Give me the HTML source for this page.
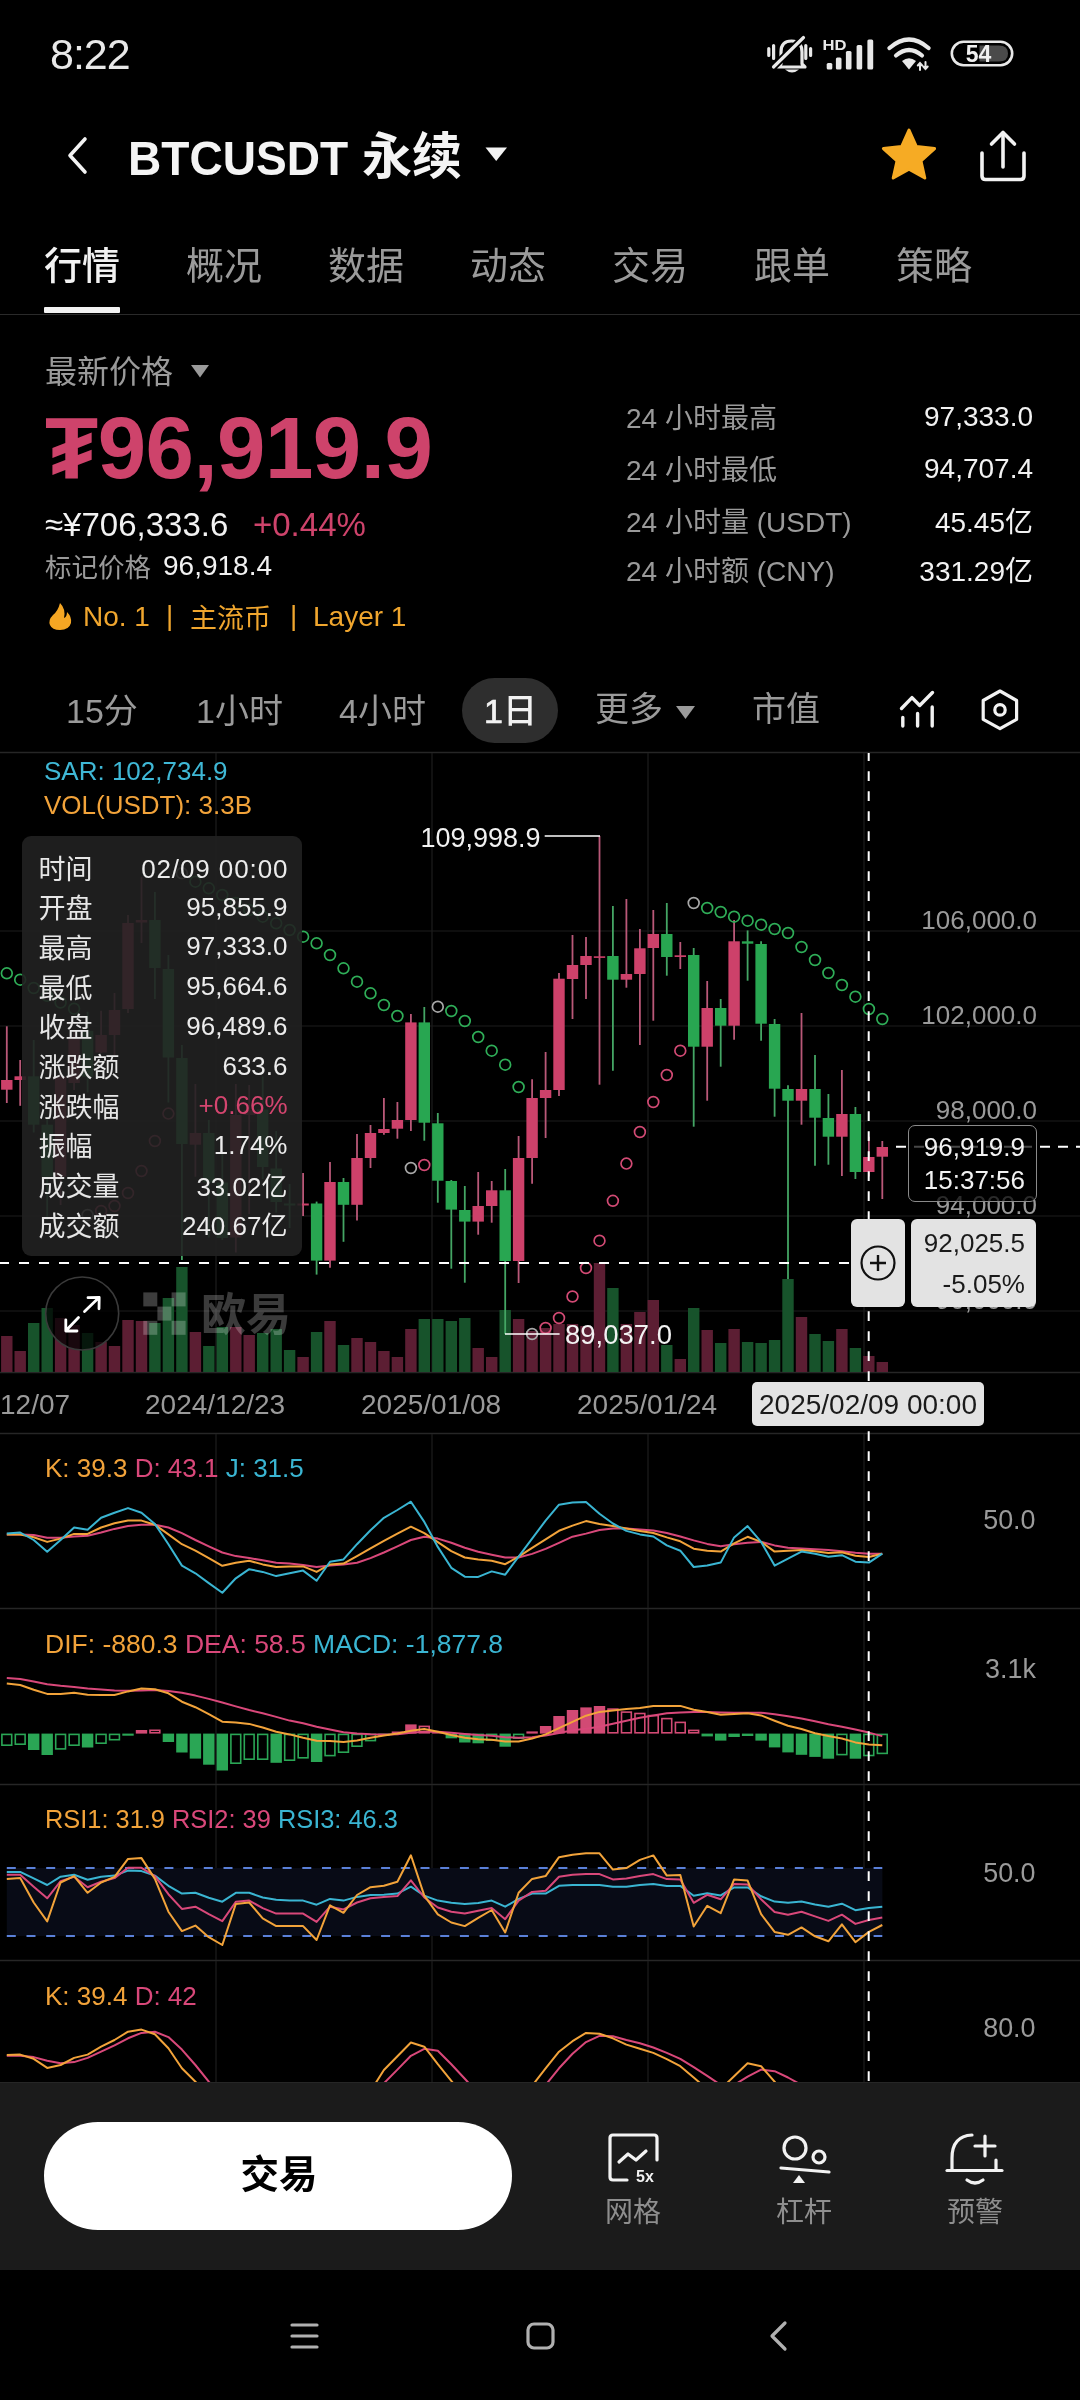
<!DOCTYPE html>
<html><head><meta charset="utf-8">
<style>
*{margin:0;padding:0;box-sizing:border-box}
html,body{width:1080px;height:2400px;background:#000;overflow:hidden}
body{position:relative;will-change:transform;font-family:"Liberation Sans","Noto Sans CJK SC",sans-serif;color:#fff}
.a{position:absolute;white-space:nowrap;line-height:1}
.g{color:#9a9a9a}
.w{color:#f2f2f2}
.pk{color:#ce436b}
.r{text-align:right}
.cjk{font-family:"Noto Sans CJK SC",sans-serif}
</style></head><body>
<!-- status bar -->
<div class="a" style="left:50px;top:33px;font-size:43px;color:#e8e8e8;letter-spacing:-1px">8:22</div>
<svg class="a" style="left:760px;top:30px" width="260" height="50" viewBox="760 30 260 50">
  <g fill="none" stroke="#e8e8e8" stroke-width="3.2" stroke-linecap="round" stroke-linejoin="round">
    <path d="M781 64 L781 52 Q781 41 791.5 41 Q802 41 802 52 L802 64 L805 67 L778 67 Z"/>
    <path d="M768.8 48.5 L768.8 55.5 M773.6 45.5 L773.6 58.5 M810.6 48.5 L810.6 55.5 M805.8 45.5 L805.8 58.5"/>
  </g>
  <path d="M803.5 37.5 L773.5 67" stroke="#000" stroke-width="7"/>
  <path d="M803.5 37.5 L773.5 67" stroke="#e8e8e8" stroke-width="3.2" stroke-linecap="round"/>
  <path d="M785 69.5 Q792 75.5 799 69.5 Z" fill="#e8e8e8"/>
  <text x="822.5" y="49.5" font-size="14.5" font-weight="bold" fill="#e8e8e8" font-family="Liberation Sans" textLength="24" lengthAdjust="spacingAndGlyphs">HD</text>
  <g fill="#e8e8e8">
    <rect x="826.7" y="63" width="5.6" height="6.5" rx="1.5"/>
    <rect x="835.9" y="57.5" width="5.6" height="12" rx="1.5"/>
    <rect x="845.9" y="51" width="5.6" height="18.5" rx="1.5"/>
    <rect x="856.6" y="45" width="5.6" height="24.5" rx="1.5"/>
    <rect x="867.4" y="39.4" width="5.8" height="30.1" rx="1.5"/>
  </g>
  <g fill="none" stroke="#e8e8e8" stroke-width="4.2" stroke-linecap="round">
    <path d="M889.5 48 Q909 31 928.5 48"/>
    <path d="M896 55.5 Q909 44.5 922 55.5"/>
  </g>
  <path d="M902 61 Q909 55.5 916 61 L909 69.5 Z" fill="#e8e8e8"/>
  <g fill="none" stroke="#e8e8e8" stroke-width="2" stroke-linecap="round">
    <path d="M920 63 L920 70 M917.8 65.5 L920 63 L922.2 65.5"/>
    <path d="M925.5 62 L925.5 69 M923.3 66.5 L925.5 69 L927.7 66.5"/>
  </g>
  <rect x="951.8" y="41.8" width="60.4" height="23.4" rx="11.7" fill="none" stroke="#e8e8e8" stroke-width="2.6"/>
  <path d="M979.5 45.5 L999 45.5 Q1008 45.5 1008 53.5 Q1008 61.5 999 61.5 L979.5 61.5 Z" fill="#4a4a4a"/>
  <text x="978.5" y="62" font-size="23" font-weight="bold" fill="#f0f0f0" text-anchor="middle" font-family="Liberation Sans">54</text>
</svg>

<!-- header -->
<svg class="a" style="left:60px;top:130px" width="40" height="50" viewBox="60 130 40 50">
  <path d="M85 139 L70 155.5 L85 172" fill="none" stroke="#f2f2f2" stroke-width="3.6" stroke-linecap="round" stroke-linejoin="round"/>
</svg>
<div class="a" style="left:127.5px;top:133.5px;font-size:48.5px;font-weight:bold;color:#f4f4f4;transform:scaleX(0.95);transform-origin:0 0">BTCUSDT</div>
<div class="a cjk" style="left:362px;top:127px;font-size:50px;font-weight:700;color:#f4f4f4">永续</div>
<svg class="a" style="left:480px;top:140px" width="34" height="28" viewBox="480 140 34 28"><path d="M485.5 147.5 L507 147.5 L496.2 161 Z" fill="#f2f2f2"/></svg>
<svg class="a" style="left:876px;top:124px" width="66" height="60" viewBox="876 124 66 60">
  <path d="M909 130 L916.4 146.5 L934.6 148.6 L921 161 L924.8 178 L909 169.2 L893.2 178 L897 161 L883.4 148.6 L901.6 146.5 Z" fill="#f6ab24" stroke="#f6ab24" stroke-width="3" stroke-linejoin="round"/>
</svg>
<svg class="a" style="left:975px;top:126px" width="60" height="60" viewBox="975 126 60 60">
  <g fill="none" stroke="#f2f2f2" stroke-width="3.6" stroke-linecap="round" stroke-linejoin="round">
    <path d="M1003 133 L1003 167"/>
    <path d="M991.5 144 L1003 132.5 L1014.5 144"/>
    <path d="M982 153 L982 176 Q982 179.5 985.5 179.5 L1020.5 179.5 Q1024 179.5 1024 176 L1024 153"/>
  </g>
</svg>

<!-- tabs -->
<div class="a cjk" style="left:44px;top:243.5px;font-size:38px;color:#f2f2f2;font-weight:500">行情</div>
<div class="a cjk g" style="left:186px;top:243.5px;font-size:38px">概况</div>
<div class="a cjk g" style="left:328px;top:243.5px;font-size:38px">数据</div>
<div class="a cjk g" style="left:470px;top:243.5px;font-size:38px">动态</div>
<div class="a cjk g" style="left:612px;top:243.5px;font-size:38px">交易</div>
<div class="a cjk g" style="left:754px;top:243.5px;font-size:38px">跟单</div>
<div class="a cjk g" style="left:896px;top:243.5px;font-size:38px">策略</div>
<div class="a" style="left:44px;top:307px;width:76px;height:6px;background:#f2f2f2;border-radius:1px"></div>
<div class="a" style="left:0;top:313.5px;width:1080px;height:1.5px;background:#2a2a2a"></div>

<!-- price block -->
<div class="a cjk g" style="left:45px;top:353px;font-size:32px">最新价格</div>
<svg class="a" style="left:188px;top:362px" width="24" height="18" viewBox="188 362 24 18"><path d="M191 365 L209 365 L200 377.5 Z" fill="#9a9a9a"/></svg>
<div class="a pk" style="left:45px;top:404px;font-size:87px;font-weight:bold;letter-spacing:-0.5px">₮96,919.9</div>
<div class="a w" style="left:45px;top:508px;font-size:33px">≈¥706,333.6</div>
<div class="a pk" style="left:253px;top:508px;font-size:33px">+0.44%</div>
<div class="a cjk g" style="left:45px;top:553px;font-size:26.5px">标记价格</div>
<div class="a w" style="left:163px;top:552px;font-size:28px">96,918.4</div>
<svg class="a" style="left:46px;top:600px" width="30" height="32" viewBox="46 600 30 32">
  <path d="M60 603 Q58 611 53 615 Q48 620 50 625 Q52 630 60 630 Q69 630 71 623 Q72 617 67 612 Q67 617 64 618 Q66 609 60 603 Z" fill="#f5a623"/>
</svg>
<div class="a" style="left:83px;top:603px;font-size:28px;color:#f0a62e">No. 1</div>
<div class="a" style="left:166px;top:602px;font-size:28px;color:#f0a62e">|</div>
<div class="a cjk" style="left:190px;top:602.5px;font-size:27px;color:#f0a62e">主流币</div>
<div class="a" style="left:290px;top:602px;font-size:28px;color:#f0a62e">|</div>
<div class="a" style="left:313px;top:603px;font-size:28px;color:#f0a62e">Layer 1</div>

<!-- right stats -->
<div class="a g" style="left:626px;top:402px;font-size:28px">24 <span class="cjk">小时最高</span></div>
<div class="a g" style="left:626px;top:454px;font-size:28px">24 <span class="cjk">小时最低</span></div>
<div class="a g" style="left:626px;top:506px;font-size:28px">24 <span class="cjk">小时量</span> (USDT)</div>
<div class="a g" style="left:626px;top:555px;font-size:28px">24 <span class="cjk">小时额</span> (CNY)</div>
<div class="a w r" style="right:47px;top:403px;font-size:28px">97,333.0</div>
<div class="a w r" style="right:47px;top:455px;font-size:28px">94,707.4</div>
<div class="a w r" style="right:47px;top:506px;font-size:28px">45.45<span class="cjk">亿</span></div>
<div class="a w r" style="right:47px;top:555px;font-size:28px">331.29<span class="cjk">亿</span></div>

<!-- interval row -->
<div class="a" style="left:462px;top:678px;width:96px;height:65px;border-radius:33px;background:#2e2e2e"></div>
<div class="a g" style="left:66px;top:692px;font-size:34px">15<span class="cjk">分</span></div>
<div class="a g" style="left:196px;top:692px;font-size:34px">1<span class="cjk">小时</span></div>
<div class="a g" style="left:339px;top:692px;font-size:34px">4<span class="cjk">小时</span></div>
<div class="a" style="left:484px;top:692px;font-size:34px;color:#f2f2f2;-webkit-text-stroke:0.7px #f2f2f2">1<span class="cjk" style="font-weight:500;-webkit-text-stroke:0">日</span></div>
<div class="a cjk g" style="left:595px;top:690px;font-size:34px">更多</div>
<svg class="a" style="left:672px;top:702px" width="26" height="20" viewBox="672 702 26 20"><path d="M676 706 L695 706 L685.5 719 Z" fill="#9a9a9a"/></svg>
<div class="a cjk g" style="left:752px;top:690px;font-size:34px">市值</div>
<svg class="a" style="left:894px;top:686px" width="48" height="46" viewBox="894 686 48 46">
  <g fill="none" stroke="#f2f2f2" stroke-width="3.4" stroke-linecap="round" stroke-linejoin="round">
    <path d="M902.8 717.5 L902.8 726 M917.6 713.5 L917.6 726 M932.2 707 L932.2 726"/>
    <path d="M901.5 708.5 L912 697.6 L919.7 705.5 L932.5 692.5"/>
  </g>
</svg>
<svg class="a" style="left:976px;top:685px" width="48" height="50" viewBox="976 685 48 50">
  <path d="M1000 691 L1016.6 700.5 L1016.6 719.4 L1000 728.6 L983.2 719.4 L983.2 700.5 Z" fill="none" stroke="#f2f2f2" stroke-width="3.2" stroke-linejoin="round"/>
  <circle cx="1000" cy="709.9" r="5.2" fill="none" stroke="#f2f2f2" stroke-width="3.2"/>
</svg>

<svg width="1080" height="2400" viewBox="0 0 1080 2400" style="position:absolute;left:0;top:0">
<defs><clipPath id="ckd"><rect x="0" y="1961" width="1080" height="121"/></clipPath><clipPath id="cmain"><rect x="0" y="753" width="1080" height="619"/></clipPath></defs>
<line x1="0" y1="752.5" x2="1080" y2="752.5" stroke="#262626" stroke-width="1.5"/>
<line x1="0" y1="1372.5" x2="1080" y2="1372.5" stroke="#262626" stroke-width="1.5"/>
<line x1="0" y1="1433.5" x2="1080" y2="1433.5" stroke="#262626" stroke-width="1.5"/>
<line x1="0" y1="1608.5" x2="1080" y2="1608.5" stroke="#262626" stroke-width="1.5"/>
<line x1="0" y1="1784.5" x2="1080" y2="1784.5" stroke="#262626" stroke-width="1.5"/>
<line x1="0" y1="1960.5" x2="1080" y2="1960.5" stroke="#262626" stroke-width="1.5"/>
<line x1="0" y1="931" x2="1080" y2="931" stroke="#1d1d1d" stroke-width="1.2"/>
<line x1="0" y1="1026" x2="1080" y2="1026" stroke="#1d1d1d" stroke-width="1.2"/>
<line x1="0" y1="1121" x2="1080" y2="1121" stroke="#1d1d1d" stroke-width="1.2"/>
<line x1="0" y1="1216" x2="1080" y2="1216" stroke="#1d1d1d" stroke-width="1.2"/>
<line x1="0" y1="1311" x2="1080" y2="1311" stroke="#1d1d1d" stroke-width="1.2"/>
<line x1="216" y1="753" x2="216" y2="1372" stroke="#1d1d1d" stroke-width="1.2"/>
<line x1="216" y1="1434" x2="216" y2="1608" stroke="#1d1d1d" stroke-width="1.2"/>
<line x1="216" y1="1609" x2="216" y2="1784" stroke="#1d1d1d" stroke-width="1.2"/>
<line x1="216" y1="1785" x2="216" y2="1960" stroke="#1d1d1d" stroke-width="1.2"/>
<line x1="216" y1="1961" x2="216" y2="2082" stroke="#1d1d1d" stroke-width="1.2"/>
<line x1="432" y1="753" x2="432" y2="1372" stroke="#1d1d1d" stroke-width="1.2"/>
<line x1="432" y1="1434" x2="432" y2="1608" stroke="#1d1d1d" stroke-width="1.2"/>
<line x1="432" y1="1609" x2="432" y2="1784" stroke="#1d1d1d" stroke-width="1.2"/>
<line x1="432" y1="1785" x2="432" y2="1960" stroke="#1d1d1d" stroke-width="1.2"/>
<line x1="432" y1="1961" x2="432" y2="2082" stroke="#1d1d1d" stroke-width="1.2"/>
<line x1="648" y1="753" x2="648" y2="1372" stroke="#1d1d1d" stroke-width="1.2"/>
<line x1="648" y1="1434" x2="648" y2="1608" stroke="#1d1d1d" stroke-width="1.2"/>
<line x1="648" y1="1609" x2="648" y2="1784" stroke="#1d1d1d" stroke-width="1.2"/>
<line x1="648" y1="1785" x2="648" y2="1960" stroke="#1d1d1d" stroke-width="1.2"/>
<line x1="648" y1="1961" x2="648" y2="2082" stroke="#1d1d1d" stroke-width="1.2"/>
<line x1="864" y1="753" x2="864" y2="1372" stroke="#1d1d1d" stroke-width="1.2"/>
<line x1="864" y1="1434" x2="864" y2="1608" stroke="#1d1d1d" stroke-width="1.2"/>
<line x1="864" y1="1609" x2="864" y2="1784" stroke="#1d1d1d" stroke-width="1.2"/>
<line x1="864" y1="1785" x2="864" y2="1960" stroke="#1d1d1d" stroke-width="1.2"/>
<line x1="864" y1="1961" x2="864" y2="2082" stroke="#1d1d1d" stroke-width="1.2"/>
<rect x="1.1" y="1336" width="11.4" height="36" fill="#5c1e33"/>
<rect x="14.5" y="1351" width="11.4" height="21" fill="#5c1e33"/>
<rect x="28" y="1323" width="11.4" height="49" fill="#17532b"/>
<rect x="41.5" y="1308" width="11.4" height="64" fill="#17532b"/>
<rect x="54.9" y="1318" width="11.4" height="54" fill="#5c1e33"/>
<rect x="68.4" y="1325" width="11.4" height="47" fill="#5c1e33"/>
<rect x="81.9" y="1333" width="11.4" height="39" fill="#17532b"/>
<rect x="95.4" y="1342" width="11.4" height="30" fill="#5c1e33"/>
<rect x="108.8" y="1346" width="11.4" height="26" fill="#5c1e33"/>
<rect x="122.3" y="1320" width="11.4" height="52" fill="#5c1e33"/>
<rect x="135.8" y="1321" width="11.4" height="51" fill="#5c1e33"/>
<rect x="149.2" y="1323" width="11.4" height="49" fill="#17532b"/>
<rect x="162.7" y="1298" width="11.4" height="74" fill="#17532b"/>
<rect x="176.2" y="1267" width="11.4" height="105" fill="#17532b"/>
<rect x="189.7" y="1332" width="11.4" height="40" fill="#5c1e33"/>
<rect x="203.1" y="1346" width="11.4" height="26" fill="#17532b"/>
<rect x="216.6" y="1327" width="11.4" height="45" fill="#17532b"/>
<rect x="230.1" y="1327" width="11.4" height="45" fill="#5c1e33"/>
<rect x="243.5" y="1335" width="11.4" height="37" fill="#5c1e33"/>
<rect x="257" y="1333" width="11.4" height="39" fill="#17532b"/>
<rect x="270.5" y="1329" width="11.4" height="43" fill="#17532b"/>
<rect x="283.9" y="1350" width="11.4" height="22" fill="#17532b"/>
<rect x="297.4" y="1357" width="11.4" height="15" fill="#5c1e33"/>
<rect x="310.9" y="1332" width="11.4" height="40" fill="#17532b"/>
<rect x="324.3" y="1321" width="11.4" height="51" fill="#5c1e33"/>
<rect x="337.8" y="1345" width="11.4" height="27" fill="#17532b"/>
<rect x="351.3" y="1338" width="11.4" height="34" fill="#5c1e33"/>
<rect x="364.8" y="1342" width="11.4" height="30" fill="#5c1e33"/>
<rect x="378.2" y="1351" width="11.4" height="21" fill="#5c1e33"/>
<rect x="391.7" y="1357" width="11.4" height="15" fill="#5c1e33"/>
<rect x="405.2" y="1329" width="11.4" height="43" fill="#5c1e33"/>
<rect x="418.6" y="1319" width="11.4" height="53" fill="#17532b"/>
<rect x="432.1" y="1319" width="11.4" height="53" fill="#17532b"/>
<rect x="445.6" y="1321" width="11.4" height="51" fill="#17532b"/>
<rect x="459.1" y="1318" width="11.4" height="54" fill="#17532b"/>
<rect x="472.5" y="1348" width="11.4" height="24" fill="#5c1e33"/>
<rect x="486" y="1357" width="11.4" height="15" fill="#5c1e33"/>
<rect x="499.5" y="1310" width="11.4" height="62" fill="#17532b"/>
<rect x="512.9" y="1319" width="11.4" height="53" fill="#5c1e33"/>
<rect x="526.4" y="1331" width="11.4" height="41" fill="#5c1e33"/>
<rect x="539.9" y="1328" width="11.4" height="44" fill="#5c1e33"/>
<rect x="553.3" y="1324" width="11.4" height="48" fill="#5c1e33"/>
<rect x="566.8" y="1324" width="11.4" height="48" fill="#5c1e33"/>
<rect x="580.3" y="1326" width="11.4" height="46" fill="#5c1e33"/>
<rect x="593.8" y="1263" width="11.4" height="109" fill="#5c1e33"/>
<rect x="607.2" y="1288" width="11.4" height="84" fill="#17532b"/>
<rect x="620.7" y="1324" width="11.4" height="48" fill="#5c1e33"/>
<rect x="634.2" y="1312" width="11.4" height="60" fill="#5c1e33"/>
<rect x="647.6" y="1300" width="11.4" height="72" fill="#5c1e33"/>
<rect x="661.1" y="1345" width="11.4" height="27" fill="#17532b"/>
<rect x="674.6" y="1359" width="11.4" height="13" fill="#5c1e33"/>
<rect x="688" y="1308" width="11.4" height="64" fill="#17532b"/>
<rect x="701.5" y="1330" width="11.4" height="42" fill="#5c1e33"/>
<rect x="715" y="1343" width="11.4" height="29" fill="#17532b"/>
<rect x="728.4" y="1329" width="11.4" height="43" fill="#5c1e33"/>
<rect x="741.9" y="1342" width="11.4" height="30" fill="#17532b"/>
<rect x="755.4" y="1343" width="11.4" height="29" fill="#17532b"/>
<rect x="768.9" y="1340" width="11.4" height="32" fill="#17532b"/>
<rect x="782.3" y="1279" width="11.4" height="93" fill="#17532b"/>
<rect x="795.8" y="1317" width="11.4" height="55" fill="#5c1e33"/>
<rect x="809.3" y="1334" width="11.4" height="38" fill="#17532b"/>
<rect x="822.7" y="1341" width="11.4" height="31" fill="#17532b"/>
<rect x="836.2" y="1329" width="11.4" height="43" fill="#5c1e33"/>
<rect x="849.7" y="1348" width="11.4" height="24" fill="#17532b"/>
<rect x="863.1" y="1356" width="11.4" height="16" fill="#5c1e33"/>
<rect x="876.6" y="1362" width="11.4" height="10" fill="#5c1e33"/>
<line x1="6.8" y1="1026.3" x2="6.8" y2="1103" stroke="#b95878" stroke-width="1.8"/>
<rect x="1.1" y="1080" width="11.4" height="9.7" fill="#cd416a"/>
<line x1="20.2" y1="1060" x2="20.2" y2="1105.8" stroke="#b95878" stroke-width="1.8"/>
<rect x="14.5" y="1076.3" width="11.4" height="3.7" fill="#cd416a"/>
<line x1="33.7" y1="1040" x2="33.7" y2="1132.5" stroke="#44a564" stroke-width="1.8"/>
<rect x="28" y="1076.3" width="11.4" height="48.4" fill="#28a651"/>
<line x1="47.2" y1="1118" x2="47.2" y2="1220" stroke="#44a564" stroke-width="1.8"/>
<rect x="41.5" y="1124.7" width="11.4" height="52" fill="#28a651"/>
<line x1="60.6" y1="1070" x2="60.6" y2="1205" stroke="#b95878" stroke-width="1.8"/>
<rect x="54.9" y="1076.7" width="11.4" height="100" fill="#cd416a"/>
<line x1="74.1" y1="1030" x2="74.1" y2="1090" stroke="#b95878" stroke-width="1.8"/>
<rect x="68.4" y="1036.7" width="11.4" height="46.3" fill="#cd416a"/>
<line x1="87.6" y1="1011.7" x2="87.6" y2="1092.5" stroke="#44a564" stroke-width="1.8"/>
<rect x="81.9" y="1030.8" width="11.4" height="45.9" fill="#28a651"/>
<line x1="101.1" y1="1010.8" x2="101.1" y2="1053" stroke="#b95878" stroke-width="1.8"/>
<rect x="95.4" y="1035" width="11.4" height="17.5" fill="#cd416a"/>
<line x1="114.5" y1="993" x2="114.5" y2="1055" stroke="#b95878" stroke-width="1.8"/>
<rect x="108.8" y="1010" width="11.4" height="25" fill="#cd416a"/>
<line x1="128" y1="915" x2="128" y2="1013" stroke="#b95878" stroke-width="1.8"/>
<rect x="122.3" y="923" width="11.4" height="86" fill="#cd416a"/>
<line x1="141.5" y1="877" x2="141.5" y2="943" stroke="#b95878" stroke-width="1.8"/>
<rect x="135.8" y="920" width="11.4" height="2.5" fill="#cd416a"/>
<line x1="154.9" y1="892" x2="154.9" y2="999" stroke="#44a564" stroke-width="1.8"/>
<rect x="149.2" y="920" width="11.4" height="48" fill="#28a651"/>
<line x1="168.4" y1="955" x2="168.4" y2="1102.5" stroke="#44a564" stroke-width="1.8"/>
<rect x="162.7" y="969" width="11.4" height="88.5" fill="#28a651"/>
<line x1="181.9" y1="1045" x2="181.9" y2="1260" stroke="#44a564" stroke-width="1.8"/>
<rect x="176.2" y="1058" width="11.4" height="86" fill="#28a651"/>
<line x1="195.4" y1="1084" x2="195.4" y2="1176.7" stroke="#b95878" stroke-width="1.8"/>
<rect x="189.7" y="1133" width="11.4" height="11.7" fill="#cd416a"/>
<line x1="208.8" y1="1120" x2="208.8" y2="1237.5" stroke="#44a564" stroke-width="1.8"/>
<rect x="203.1" y="1133" width="11.4" height="49.5" fill="#28a651"/>
<line x1="222.3" y1="1153" x2="222.3" y2="1240" stroke="#44a564" stroke-width="1.8"/>
<rect x="216.6" y="1182.5" width="11.4" height="55.5" fill="#28a651"/>
<line x1="235.8" y1="1084" x2="235.8" y2="1252.5" stroke="#b95878" stroke-width="1.8"/>
<rect x="230.1" y="1115" width="11.4" height="122.5" fill="#cd416a"/>
<line x1="249.2" y1="1085" x2="249.2" y2="1214" stroke="#b95878" stroke-width="1.8"/>
<rect x="243.5" y="1110" width="11.4" height="5" fill="#cd416a"/>
<line x1="262.7" y1="1076.5" x2="262.7" y2="1179" stroke="#44a564" stroke-width="1.8"/>
<rect x="257" y="1109.5" width="11.4" height="57.5" fill="#28a651"/>
<line x1="276.2" y1="1131" x2="276.2" y2="1212.6" stroke="#44a564" stroke-width="1.8"/>
<rect x="270.5" y="1168.5" width="11.4" height="33.5" fill="#28a651"/>
<line x1="289.6" y1="1184" x2="289.6" y2="1228" stroke="#44a564" stroke-width="1.8"/>
<rect x="283.9" y="1203.5" width="11.4" height="2" fill="#28a651"/>
<line x1="303.1" y1="1173" x2="303.1" y2="1216" stroke="#b95878" stroke-width="1.8"/>
<rect x="297.4" y="1203.5" width="11.4" height="2" fill="#cd416a"/>
<line x1="316.6" y1="1201.6" x2="316.6" y2="1274.6" stroke="#44a564" stroke-width="1.8"/>
<rect x="310.9" y="1203.5" width="11.4" height="57.1" fill="#28a651"/>
<line x1="330" y1="1162" x2="330" y2="1267.7" stroke="#b95878" stroke-width="1.8"/>
<rect x="324.3" y="1182" width="11.4" height="78.6" fill="#cd416a"/>
<line x1="343.5" y1="1178" x2="343.5" y2="1241.8" stroke="#44a564" stroke-width="1.8"/>
<rect x="337.8" y="1182" width="11.4" height="22.8" fill="#28a651"/>
<line x1="357" y1="1134" x2="357" y2="1220.4" stroke="#b95878" stroke-width="1.8"/>
<rect x="351.3" y="1158" width="11.4" height="46.8" fill="#cd416a"/>
<line x1="370.5" y1="1125" x2="370.5" y2="1168" stroke="#b95878" stroke-width="1.8"/>
<rect x="364.8" y="1133" width="11.4" height="25" fill="#cd416a"/>
<line x1="383.9" y1="1098" x2="383.9" y2="1134.7" stroke="#b95878" stroke-width="1.8"/>
<rect x="378.2" y="1129" width="11.4" height="4" fill="#cd416a"/>
<line x1="397.4" y1="1102" x2="397.4" y2="1138.7" stroke="#b95878" stroke-width="1.8"/>
<rect x="391.7" y="1120" width="11.4" height="8.7" fill="#cd416a"/>
<line x1="410.9" y1="1014" x2="410.9" y2="1131" stroke="#b95878" stroke-width="1.8"/>
<rect x="405.2" y="1022.4" width="11.4" height="97.6" fill="#cd416a"/>
<line x1="424.3" y1="1007" x2="424.3" y2="1140.7" stroke="#44a564" stroke-width="1.8"/>
<rect x="418.6" y="1022.4" width="11.4" height="100.3" fill="#28a651"/>
<line x1="437.8" y1="1113" x2="437.8" y2="1202.7" stroke="#44a564" stroke-width="1.8"/>
<rect x="432.1" y="1123.3" width="11.4" height="57.4" fill="#28a651"/>
<line x1="451.3" y1="1180" x2="451.3" y2="1268.7" stroke="#44a564" stroke-width="1.8"/>
<rect x="445.6" y="1181" width="11.4" height="28.6" fill="#28a651"/>
<line x1="464.8" y1="1186" x2="464.8" y2="1282.7" stroke="#44a564" stroke-width="1.8"/>
<rect x="459.1" y="1210" width="11.4" height="11.6" fill="#28a651"/>
<line x1="478.2" y1="1172" x2="478.2" y2="1234.7" stroke="#b95878" stroke-width="1.8"/>
<rect x="472.5" y="1206" width="11.4" height="15.6" fill="#cd416a"/>
<line x1="491.7" y1="1181" x2="491.7" y2="1222.7" stroke="#b95878" stroke-width="1.8"/>
<rect x="486" y="1190.3" width="11.4" height="15.7" fill="#cd416a"/>
<line x1="505.2" y1="1169" x2="505.2" y2="1334" stroke="#44a564" stroke-width="1.8"/>
<rect x="499.5" y="1190.3" width="11.4" height="70.7" fill="#28a651"/>
<line x1="518.6" y1="1136" x2="518.6" y2="1283" stroke="#b95878" stroke-width="1.8"/>
<rect x="512.9" y="1158" width="11.4" height="103" fill="#cd416a"/>
<line x1="532.1" y1="1079.3" x2="532.1" y2="1183.7" stroke="#b95878" stroke-width="1.8"/>
<rect x="526.4" y="1098" width="11.4" height="60" fill="#cd416a"/>
<line x1="545.6" y1="1052" x2="545.6" y2="1138" stroke="#b95878" stroke-width="1.8"/>
<rect x="539.9" y="1090" width="11.4" height="8" fill="#cd416a"/>
<line x1="559" y1="973" x2="559" y2="1096" stroke="#b95878" stroke-width="1.8"/>
<rect x="553.3" y="978.7" width="11.4" height="111.3" fill="#cd416a"/>
<line x1="572.5" y1="935" x2="572.5" y2="1019" stroke="#b95878" stroke-width="1.8"/>
<rect x="566.8" y="965" width="11.4" height="14" fill="#cd416a"/>
<line x1="586" y1="937" x2="586" y2="999" stroke="#b95878" stroke-width="1.8"/>
<rect x="580.3" y="956" width="11.4" height="9" fill="#cd416a"/>
<line x1="599.5" y1="836" x2="599.5" y2="1084.7" stroke="#b95878" stroke-width="1.8"/>
<rect x="593.8" y="956.3" width="11.4" height="1.6" fill="#cd416a"/>
<line x1="612.9" y1="906" x2="612.9" y2="1070.7" stroke="#44a564" stroke-width="1.8"/>
<rect x="607.2" y="956" width="11.4" height="23.7" fill="#28a651"/>
<line x1="626.4" y1="899" x2="626.4" y2="987.7" stroke="#b95878" stroke-width="1.8"/>
<rect x="620.7" y="974" width="11.4" height="5.7" fill="#cd416a"/>
<line x1="639.9" y1="929" x2="639.9" y2="1045" stroke="#b95878" stroke-width="1.8"/>
<rect x="634.2" y="948.3" width="11.4" height="25.7" fill="#cd416a"/>
<line x1="653.3" y1="910" x2="653.3" y2="1020.7" stroke="#b95878" stroke-width="1.8"/>
<rect x="647.6" y="934" width="11.4" height="14" fill="#cd416a"/>
<line x1="666.8" y1="903" x2="666.8" y2="975.7" stroke="#44a564" stroke-width="1.8"/>
<rect x="661.1" y="934" width="11.4" height="23" fill="#28a651"/>
<line x1="680.3" y1="942" x2="680.3" y2="969" stroke="#b95878" stroke-width="1.8"/>
<rect x="674.6" y="955.3" width="11.4" height="1.7" fill="#cd416a"/>
<line x1="693.7" y1="948" x2="693.7" y2="1126.7" stroke="#44a564" stroke-width="1.8"/>
<rect x="688" y="955" width="11.4" height="91.7" fill="#28a651"/>
<line x1="707.2" y1="981" x2="707.2" y2="1100.7" stroke="#b95878" stroke-width="1.8"/>
<rect x="701.5" y="1008" width="11.4" height="38.7" fill="#cd416a"/>
<line x1="720.7" y1="999" x2="720.7" y2="1066.7" stroke="#44a564" stroke-width="1.8"/>
<rect x="715" y="1008" width="11.4" height="17.7" fill="#28a651"/>
<line x1="734.1" y1="920" x2="734.1" y2="1039.7" stroke="#b95878" stroke-width="1.8"/>
<rect x="728.4" y="941.3" width="11.4" height="84.4" fill="#cd416a"/>
<line x1="747.6" y1="930.4" x2="747.6" y2="980.7" stroke="#44a564" stroke-width="1.8"/>
<rect x="741.9" y="941.3" width="11.4" height="2.4" fill="#28a651"/>
<line x1="761.1" y1="941.3" x2="761.1" y2="1040.7" stroke="#44a564" stroke-width="1.8"/>
<rect x="755.4" y="944" width="11.4" height="79.7" fill="#28a651"/>
<line x1="774.6" y1="1019" x2="774.6" y2="1116.7" stroke="#44a564" stroke-width="1.8"/>
<rect x="768.9" y="1024" width="11.4" height="64.7" fill="#28a651"/>
<line x1="788" y1="1085.3" x2="788" y2="1279" stroke="#44a564" stroke-width="1.8"/>
<rect x="782.3" y="1089" width="11.4" height="11.7" fill="#28a651"/>
<line x1="801.5" y1="1013" x2="801.5" y2="1124.7" stroke="#b95878" stroke-width="1.8"/>
<rect x="795.8" y="1089" width="11.4" height="11.7" fill="#cd416a"/>
<line x1="815" y1="1055" x2="815" y2="1165.7" stroke="#44a564" stroke-width="1.8"/>
<rect x="809.3" y="1089" width="11.4" height="28.7" fill="#28a651"/>
<line x1="828.4" y1="1094" x2="828.4" y2="1164.7" stroke="#44a564" stroke-width="1.8"/>
<rect x="822.7" y="1118" width="11.4" height="18.7" fill="#28a651"/>
<line x1="841.9" y1="1070" x2="841.9" y2="1176" stroke="#b95878" stroke-width="1.8"/>
<rect x="836.2" y="1114" width="11.4" height="22.7" fill="#cd416a"/>
<line x1="855.4" y1="1107" x2="855.4" y2="1179" stroke="#44a564" stroke-width="1.8"/>
<rect x="849.7" y="1114" width="11.4" height="58" fill="#28a651"/>
<line x1="868.9" y1="1136.8" x2="868.9" y2="1176.5" stroke="#b95878" stroke-width="1.8"/>
<rect x="863.1" y="1157" width="11.4" height="15" fill="#cd416a"/>
<line x1="882.3" y1="1141" x2="882.3" y2="1199" stroke="#b95878" stroke-width="1.8"/>
<rect x="876.6" y="1147" width="11.4" height="9.7" fill="#cd416a"/>
<circle cx="6.8" cy="973.3" r="5.4" fill="none" stroke="#2fae58" stroke-width="1.7"/>
<circle cx="20.2" cy="979.7" r="5.4" fill="none" stroke="#2fae58" stroke-width="1.7"/>
<circle cx="33.7" cy="988" r="5.4" fill="none" stroke="#2fae58" stroke-width="1.7"/>
<circle cx="47.2" cy="995.8" r="5.4" fill="none" stroke="#2fae58" stroke-width="1.7"/>
<circle cx="60.6" cy="1002.5" r="5.4" fill="none" stroke="#2fae58" stroke-width="1.7"/>
<circle cx="74.1" cy="1008.7" r="5.4" fill="none" stroke="#2fae58" stroke-width="1.7"/>
<circle cx="87.6" cy="1215" r="5.4" fill="none" stroke="#a8a8a8" stroke-width="1.7"/>
<circle cx="101.1" cy="1211" r="5.4" fill="none" stroke="#d24a74" stroke-width="1.7"/>
<circle cx="114.5" cy="1206" r="5.4" fill="none" stroke="#d24a74" stroke-width="1.7"/>
<circle cx="128" cy="1193" r="5.4" fill="none" stroke="#d24a74" stroke-width="1.7"/>
<circle cx="141.5" cy="1171" r="5.4" fill="none" stroke="#d24a74" stroke-width="1.7"/>
<circle cx="154.9" cy="1141" r="5.4" fill="none" stroke="#d24a74" stroke-width="1.7"/>
<circle cx="168.4" cy="1113.6" r="5.4" fill="none" stroke="#d24a74" stroke-width="1.7"/>
<circle cx="181.9" cy="873.3" r="5.4" fill="none" stroke="#a8a8a8" stroke-width="1.7"/>
<circle cx="195.4" cy="881.7" r="5.4" fill="none" stroke="#2fae58" stroke-width="1.7"/>
<circle cx="208.8" cy="888.3" r="5.4" fill="none" stroke="#2fae58" stroke-width="1.7"/>
<circle cx="222.3" cy="895" r="5.4" fill="none" stroke="#2fae58" stroke-width="1.7"/>
<circle cx="235.8" cy="903" r="5.4" fill="none" stroke="#2fae58" stroke-width="1.7"/>
<circle cx="249.2" cy="910" r="5.4" fill="none" stroke="#2fae58" stroke-width="1.7"/>
<circle cx="262.7" cy="916.7" r="5.4" fill="none" stroke="#2fae58" stroke-width="1.7"/>
<circle cx="276.2" cy="923.3" r="5.4" fill="none" stroke="#2fae58" stroke-width="1.7"/>
<circle cx="289.6" cy="930" r="5.4" fill="none" stroke="#2fae58" stroke-width="1.7"/>
<circle cx="303.1" cy="936.7" r="5.4" fill="none" stroke="#2fae58" stroke-width="1.7"/>
<circle cx="316.6" cy="943.3" r="5.4" fill="none" stroke="#2fae58" stroke-width="1.7"/>
<circle cx="330" cy="955" r="5.4" fill="none" stroke="#2fae58" stroke-width="1.7"/>
<circle cx="343.5" cy="968.3" r="5.4" fill="none" stroke="#2fae58" stroke-width="1.7"/>
<circle cx="357" cy="981.7" r="5.4" fill="none" stroke="#2fae58" stroke-width="1.7"/>
<circle cx="370.5" cy="993.3" r="5.4" fill="none" stroke="#2fae58" stroke-width="1.7"/>
<circle cx="383.9" cy="1005" r="5.4" fill="none" stroke="#2fae58" stroke-width="1.7"/>
<circle cx="397.4" cy="1016" r="5.4" fill="none" stroke="#2fae58" stroke-width="1.7"/>
<circle cx="410.9" cy="1168" r="5.4" fill="none" stroke="#a8a8a8" stroke-width="1.7"/>
<circle cx="424.3" cy="1165" r="5.4" fill="none" stroke="#d24a74" stroke-width="1.7"/>
<circle cx="437.8" cy="1006.7" r="5.4" fill="none" stroke="#a8a8a8" stroke-width="1.7"/>
<circle cx="451.3" cy="1011" r="5.4" fill="none" stroke="#2fae58" stroke-width="1.7"/>
<circle cx="464.8" cy="1021" r="5.4" fill="none" stroke="#2fae58" stroke-width="1.7"/>
<circle cx="478.2" cy="1037" r="5.4" fill="none" stroke="#2fae58" stroke-width="1.7"/>
<circle cx="491.7" cy="1050.7" r="5.4" fill="none" stroke="#2fae58" stroke-width="1.7"/>
<circle cx="505.2" cy="1064.7" r="5.4" fill="none" stroke="#2fae58" stroke-width="1.7"/>
<circle cx="518.6" cy="1087" r="5.4" fill="none" stroke="#2fae58" stroke-width="1.7"/>
<circle cx="532.1" cy="1334" r="5.4" fill="none" stroke="#a8a8a8" stroke-width="1.7"/>
<circle cx="545.6" cy="1328" r="5.4" fill="none" stroke="#d24a74" stroke-width="1.7"/>
<circle cx="559" cy="1318" r="5.4" fill="none" stroke="#d24a74" stroke-width="1.7"/>
<circle cx="572.5" cy="1296.5" r="5.4" fill="none" stroke="#d24a74" stroke-width="1.7"/>
<circle cx="586" cy="1268" r="5.4" fill="none" stroke="#d24a74" stroke-width="1.7"/>
<circle cx="599.5" cy="1240.7" r="5.4" fill="none" stroke="#d24a74" stroke-width="1.7"/>
<circle cx="612.9" cy="1200.8" r="5.4" fill="none" stroke="#d24a74" stroke-width="1.7"/>
<circle cx="626.4" cy="1163.6" r="5.4" fill="none" stroke="#d24a74" stroke-width="1.7"/>
<circle cx="639.9" cy="1132" r="5.4" fill="none" stroke="#d24a74" stroke-width="1.7"/>
<circle cx="653.3" cy="1102" r="5.4" fill="none" stroke="#d24a74" stroke-width="1.7"/>
<circle cx="666.8" cy="1075" r="5.4" fill="none" stroke="#d24a74" stroke-width="1.7"/>
<circle cx="680.3" cy="1050.7" r="5.4" fill="none" stroke="#d24a74" stroke-width="1.7"/>
<circle cx="693.7" cy="903" r="5.4" fill="none" stroke="#a8a8a8" stroke-width="1.7"/>
<circle cx="707.2" cy="908" r="5.4" fill="none" stroke="#2fae58" stroke-width="1.7"/>
<circle cx="720.7" cy="912" r="5.4" fill="none" stroke="#2fae58" stroke-width="1.7"/>
<circle cx="734.1" cy="916.7" r="5.4" fill="none" stroke="#2fae58" stroke-width="1.7"/>
<circle cx="747.6" cy="920.7" r="5.4" fill="none" stroke="#2fae58" stroke-width="1.7"/>
<circle cx="761.1" cy="924.7" r="5.4" fill="none" stroke="#2fae58" stroke-width="1.7"/>
<circle cx="774.6" cy="929" r="5.4" fill="none" stroke="#2fae58" stroke-width="1.7"/>
<circle cx="788" cy="933" r="5.4" fill="none" stroke="#2fae58" stroke-width="1.7"/>
<circle cx="801.5" cy="947" r="5.4" fill="none" stroke="#2fae58" stroke-width="1.7"/>
<circle cx="815" cy="960" r="5.4" fill="none" stroke="#2fae58" stroke-width="1.7"/>
<circle cx="828.4" cy="973" r="5.4" fill="none" stroke="#2fae58" stroke-width="1.7"/>
<circle cx="841.9" cy="985" r="5.4" fill="none" stroke="#2fae58" stroke-width="1.7"/>
<circle cx="855.4" cy="996.7" r="5.4" fill="none" stroke="#2fae58" stroke-width="1.7"/>
<circle cx="868.9" cy="1009" r="5.4" fill="none" stroke="#2fae58" stroke-width="1.7"/>
<circle cx="882.3" cy="1019" r="5.4" fill="none" stroke="#2fae58" stroke-width="1.7"/>
<line x1="544.7" y1="836" x2="600" y2="836" stroke="#fff" stroke-width="1.6"/>
<line x1="505" y1="1334" x2="559.6" y2="1334" stroke="#fff" stroke-width="1.6"/>
<polyline points="6.8,1534.4 20.2,1534.4 33.7,1535 47.2,1537.8 60.6,1537.8 74.1,1536.4 87.6,1535.8 101.1,1532.5 114.5,1528.9 128,1526.1 141.5,1524.7 154.9,1524.7 168.4,1527.5 181.9,1533.1 195.4,1540 208.8,1546.4 222.3,1552.5 235.8,1556.1 249.2,1558.1 262.7,1560.3 276.2,1562.8 289.6,1563.6 303.1,1565 316.6,1566.9 330,1565.6 343.5,1564.4 357,1562.8 370.5,1558.1 383.9,1552.5 397.4,1546.4 410.9,1540 424.3,1536.7 437.8,1538.6 451.3,1542.8 464.8,1547.8 478.2,1551.7 491.7,1554.7 505.2,1557.5 518.6,1557.5 532.1,1553.9 545.6,1548.9 559,1542.8 572.5,1536.7 586,1533.6 599.5,1530 612.9,1528.5 626.4,1528.5 639.9,1529.4 653.3,1530.6 666.8,1533 680.3,1536.5 693.7,1540.4 707.2,1543.9 720.7,1546.3 734.1,1544.2 747.6,1542.7 761.1,1541.9 774.6,1545.4 788,1547.8 801.5,1548.4 815,1549.3 828.4,1550.1 841.9,1551.3 855.4,1552.8 868.9,1553.7 882.3,1553.7" fill="none" stroke="#d9487a" stroke-width="2" stroke-linejoin="round"/>
<polyline points="6.8,1534.4 20.2,1534.4 33.7,1537.2 47.2,1541.9 60.6,1538.6 74.1,1533.9 87.6,1533.9 101.1,1527.5 114.5,1523.3 128,1520.6 141.5,1520.6 154.9,1524.7 168.4,1534.4 181.9,1544.2 195.4,1550.6 208.8,1558.1 222.3,1565.8 235.8,1562.8 249.2,1560.8 262.7,1564.4 276.2,1566.9 289.6,1566.4 303.1,1566.4 316.6,1571.9 330,1564.4 343.5,1563.6 357,1556.1 370.5,1548.3 383.9,1540.8 397.4,1533.6 410.9,1526.7 424.3,1533.1 437.8,1542.2 451.3,1551.1 464.8,1557.5 478.2,1559.4 491.7,1560.8 505.2,1564.2 518.6,1556.7 532.1,1547.8 545.6,1539.4 559,1530.8 572.5,1525.6 586,1521.1 599.5,1524.1 612.9,1526.1 626.4,1528.5 639.9,1530.9 653.3,1533 666.8,1537.4 680.3,1541.3 693.7,1548.7 707.2,1550.7 720.7,1551.6 734.1,1543.3 747.6,1536.8 761.1,1541.9 774.6,1551.6 788,1550.7 801.5,1550.1 815,1551.3 828.4,1553.1 841.9,1552.2 855.4,1555.8 868.9,1557 882.3,1553.7" fill="none" stroke="#f2a33a" stroke-width="2" stroke-linejoin="round"/>
<polyline points="6.8,1533.6 20.2,1532.5 33.7,1540 47.2,1551.7 60.6,1540 74.1,1527.5 87.6,1529.7 101.1,1517.8 114.5,1512.8 128,1508.1 141.5,1512.8 154.9,1523.9 168.4,1544.2 181.9,1565.6 195.4,1573.3 208.8,1583.1 222.3,1592.8 235.8,1578.3 249.2,1569.2 262.7,1571.9 276.2,1576.1 289.6,1573.3 303.1,1570.6 316.6,1580.8 330,1561.7 343.5,1559.4 357,1544.2 370.5,1530.3 383.9,1517.8 397.4,1510 410.9,1501.7 424.3,1521.9 437.8,1546.9 451.3,1567.8 464.8,1576.7 478.2,1576.9 491.7,1571.4 505.2,1574.7 518.6,1556.7 532.1,1538.6 545.6,1520.6 559,1504.7 572.5,1502.5 586,1501.9 599.5,1513.7 612.9,1523.5 626.4,1530.9 639.9,1534.4 653.3,1536.5 666.8,1545.4 680.3,1550.7 693.7,1567 707.2,1565.6 720.7,1562.6 734.1,1537.4 747.6,1526.1 761.1,1541.9 774.6,1565.6 788,1558.7 801.5,1551.6 815,1553.7 828.4,1556.7 841.9,1555.2 855.4,1561.7 868.9,1562.6 882.3,1553.7" fill="none" stroke="#3ab5d2" stroke-width="2" stroke-linejoin="round"/>
<rect x="1.9" y="1734.4" width="9.8" height="10.8" fill="none" stroke="#2aa655" stroke-width="1.6"/>
<rect x="15.3" y="1734.4" width="9.8" height="9.8" fill="none" stroke="#2aa655" stroke-width="1.6"/>
<rect x="28" y="1733.6" width="11.4" height="16.4" fill="#2aa655"/>
<rect x="41.5" y="1733.6" width="11.4" height="21.4" fill="#2aa655"/>
<rect x="55.7" y="1734.4" width="9.8" height="14.5" fill="none" stroke="#2aa655" stroke-width="1.6"/>
<rect x="69.2" y="1734.4" width="9.8" height="10.8" fill="none" stroke="#2aa655" stroke-width="1.6"/>
<rect x="81.9" y="1733.6" width="11.4" height="13.9" fill="#2aa655"/>
<rect x="96.2" y="1734.4" width="9.8" height="8.8" fill="none" stroke="#2aa655" stroke-width="1.6"/>
<rect x="109.6" y="1734.4" width="9.8" height="5.3" fill="none" stroke="#2aa655" stroke-width="1.6"/>
<rect x="123.1" y="1734.4" width="9.8" height="0.5" fill="none" stroke="#2aa655" stroke-width="1.6"/>
<rect x="135.8" y="1730" width="11.4" height="3.6" fill="#d24a74"/>
<rect x="150" y="1730.3" width="9.8" height="2.5" fill="none" stroke="#d24a74" stroke-width="1.6"/>
<rect x="162.7" y="1733.6" width="11.4" height="8.4" fill="#2aa655"/>
<rect x="176.2" y="1733.6" width="11.4" height="18.9" fill="#2aa655"/>
<rect x="189.7" y="1733.6" width="11.4" height="25" fill="#2aa655"/>
<rect x="203.1" y="1733.6" width="11.4" height="31.1" fill="#2aa655"/>
<rect x="216.6" y="1733.6" width="11.4" height="36.9" fill="#2aa655"/>
<rect x="230.9" y="1734.4" width="9.8" height="28.8" fill="none" stroke="#2aa655" stroke-width="1.6"/>
<rect x="244.3" y="1734.4" width="9.8" height="24.8" fill="none" stroke="#2aa655" stroke-width="1.6"/>
<rect x="257.8" y="1734.4" width="9.8" height="24.8" fill="none" stroke="#2aa655" stroke-width="1.6"/>
<rect x="270.5" y="1733.6" width="11.4" height="29.2" fill="#2aa655"/>
<rect x="284.7" y="1734.4" width="9.8" height="25.8" fill="none" stroke="#2aa655" stroke-width="1.6"/>
<rect x="298.2" y="1734.4" width="9.8" height="23.4" fill="none" stroke="#2aa655" stroke-width="1.6"/>
<rect x="310.9" y="1733.6" width="11.4" height="28.4" fill="#2aa655"/>
<rect x="325.1" y="1734.4" width="9.8" height="21.2" fill="none" stroke="#2aa655" stroke-width="1.6"/>
<rect x="338.6" y="1734.4" width="9.8" height="17.8" fill="none" stroke="#2aa655" stroke-width="1.6"/>
<rect x="352.1" y="1734.4" width="9.8" height="11.8" fill="none" stroke="#2aa655" stroke-width="1.6"/>
<rect x="365.6" y="1734.4" width="9.8" height="6.2" fill="none" stroke="#2aa655" stroke-width="1.6"/>
<rect x="379" y="1734.4" width="9.8" height="0.8" fill="none" stroke="#2aa655" stroke-width="1.6"/>
<rect x="391.7" y="1731.5" width="11.4" height="2.1" fill="#d24a74"/>
<rect x="405.2" y="1724.4" width="11.4" height="9.2" fill="#d24a74"/>
<rect x="419.4" y="1726.4" width="9.8" height="6.4" fill="none" stroke="#d24a74" stroke-width="1.6"/>
<rect x="432.9" y="1732.3" width="9.8" height="0.5" fill="none" stroke="#d24a74" stroke-width="1.6"/>
<rect x="445.6" y="1733.6" width="11.4" height="4.7" fill="#2aa655"/>
<rect x="459.1" y="1733.6" width="11.4" height="8.9" fill="#2aa655"/>
<rect x="472.5" y="1733.6" width="11.4" height="9.7" fill="#2aa655"/>
<rect x="486.8" y="1734.4" width="9.8" height="5.8" fill="none" stroke="#2aa655" stroke-width="1.6"/>
<rect x="499.5" y="1733.6" width="11.4" height="13.1" fill="#2aa655"/>
<rect x="513.7" y="1734.4" width="9.8" height="3.8" fill="none" stroke="#2aa655" stroke-width="1.6"/>
<rect x="526.4" y="1731.4" width="11.4" height="2.2" fill="#d24a74"/>
<rect x="539.9" y="1726" width="11.4" height="7.6" fill="#d24a74"/>
<rect x="553.3" y="1716" width="11.4" height="17.6" fill="#d24a74"/>
<rect x="566.8" y="1710" width="11.4" height="23.6" fill="#d24a74"/>
<rect x="580.3" y="1707.4" width="11.4" height="26.2" fill="#d24a74"/>
<rect x="593.8" y="1706" width="11.4" height="27.6" fill="#d24a74"/>
<rect x="608" y="1709.1" width="9.8" height="23.7" fill="none" stroke="#d24a74" stroke-width="1.6"/>
<rect x="621.5" y="1712.1" width="9.8" height="20.7" fill="none" stroke="#d24a74" stroke-width="1.6"/>
<rect x="635" y="1713.5" width="9.8" height="19.3" fill="none" stroke="#d24a74" stroke-width="1.6"/>
<rect x="648.4" y="1715.6" width="9.8" height="17.2" fill="none" stroke="#d24a74" stroke-width="1.6"/>
<rect x="661.9" y="1718.6" width="9.8" height="14.2" fill="none" stroke="#d24a74" stroke-width="1.6"/>
<rect x="675.4" y="1722.4" width="9.8" height="10.4" fill="none" stroke="#d24a74" stroke-width="1.6"/>
<rect x="688.8" y="1730.4" width="9.8" height="2.4" fill="none" stroke="#d24a74" stroke-width="1.6"/>
<rect x="701.5" y="1733.6" width="11.4" height="2.8" fill="#2aa655"/>
<rect x="715" y="1733.6" width="11.4" height="7" fill="#2aa655"/>
<rect x="728.4" y="1733.6" width="11.4" height="3.4" fill="#2aa655"/>
<rect x="741.9" y="1733.6" width="11.4" height="2.4" fill="#2aa655"/>
<rect x="755.4" y="1733.6" width="11.4" height="7" fill="#2aa655"/>
<rect x="768.9" y="1733.6" width="11.4" height="13.8" fill="#2aa655"/>
<rect x="782.3" y="1733.6" width="11.4" height="18.8" fill="#2aa655"/>
<rect x="795.8" y="1733.6" width="11.4" height="21.2" fill="#2aa655"/>
<rect x="809.3" y="1733.6" width="11.4" height="23.3" fill="#2aa655"/>
<rect x="822.7" y="1733.6" width="11.4" height="25.1" fill="#2aa655"/>
<rect x="837" y="1734.4" width="9.8" height="20.2" fill="none" stroke="#2aa655" stroke-width="1.6"/>
<rect x="849.7" y="1733.6" width="11.4" height="25.1" fill="#2aa655"/>
<rect x="863.9" y="1734.4" width="9.8" height="21.1" fill="none" stroke="#2aa655" stroke-width="1.6"/>
<rect x="877.4" y="1734.4" width="9.8" height="19" fill="none" stroke="#2aa655" stroke-width="1.6"/>
<polyline points="6.8,1678.1 20.2,1678.9 33.7,1681.4 47.2,1684.2 60.6,1685.8 74.1,1686.9 87.6,1688.6 101.1,1689.4 114.5,1690.6 128,1690.8 141.5,1690.6 154.9,1690 168.4,1691.1 181.9,1692.8 195.4,1695.6 208.8,1698.9 222.3,1702.5 235.8,1706.4 249.2,1710 262.7,1713.3 276.2,1716.9 289.6,1720.6 303.1,1723.3 316.6,1726.7 330,1729.4 343.5,1732.2 357,1733.6 370.5,1734.2 383.9,1734.4 397.4,1734.2 410.9,1732.8 424.3,1731.7 437.8,1731.7 451.3,1732.8 464.8,1733.9 478.2,1735 491.7,1735.8 505.2,1737.2 518.6,1737.8 532.1,1737.2 545.6,1735.6 559,1733.1 572.5,1730.3 586,1728.7 599.5,1726.7 612.9,1723.7 626.4,1720.7 639.9,1717.8 653.3,1715.4 666.8,1713.3 680.3,1712.4 693.7,1712.1 707.2,1712.1 720.7,1712.4 734.1,1712.7 747.6,1712.7 761.1,1712.7 774.6,1714.2 788,1716.3 801.5,1718.4 815,1721.3 828.4,1724.3 841.9,1726.7 855.4,1729.6 868.9,1732.6 882.3,1736.1" fill="none" stroke="#d9487a" stroke-width="2" stroke-linejoin="round"/>
<polyline points="6.8,1683.6 20.2,1685 33.7,1689.7 47.2,1693.9 60.6,1693.9 74.1,1692.8 87.6,1694.7 101.1,1695 114.5,1695 128,1691.4 141.5,1688.6 154.9,1689.2 168.4,1693.3 181.9,1701.7 195.4,1707.2 208.8,1714.2 222.3,1721.7 235.8,1722.5 249.2,1723.9 262.7,1727.5 276.2,1731.7 289.6,1734.4 303.1,1737.8 316.6,1740.8 330,1741.1 343.5,1741.9 357,1740.6 370.5,1737.8 383.9,1735.6 397.4,1733.6 410.9,1730.8 424.3,1728.9 437.8,1731.7 451.3,1735 464.8,1737.8 478.2,1739.2 491.7,1739.7 505.2,1741.4 518.6,1741.4 532.1,1738.6 545.6,1734.4 559,1728.1 572.5,1721.9 586,1715.7 599.5,1711.9 612.9,1710.4 626.4,1708.9 639.9,1708 653.3,1705.9 666.8,1705.9 680.3,1705.9 693.7,1709.8 707.2,1711.9 720.7,1714.8 734.1,1713.9 747.6,1713.3 761.1,1715.4 774.6,1720.7 788,1725.8 801.5,1729 815,1733.2 828.4,1736.1 841.9,1738.5 855.4,1742.4 868.9,1744.4 882.3,1745.3" fill="none" stroke="#f2a33a" stroke-width="2" stroke-linejoin="round"/>
<rect x="6.8" y="1868" width="875.6" height="68" fill="#080b16"/>
<line x1="6.8" y1="1868" x2="882.3" y2="1868" stroke="#5a80d8" stroke-width="2" stroke-dasharray="9 10.7"/>
<line x1="6.8" y1="1936" x2="882.3" y2="1936" stroke="#5a80d8" stroke-width="2" stroke-dasharray="9 10.7"/>
<polyline points="6.8,1871.9 20.2,1871.9 33.7,1878.3 47.2,1885 60.6,1876.7 74.1,1874.7 87.6,1879.7 101.1,1876.7 114.5,1875.6 128,1870.6 141.5,1871.1 154.9,1875.6 168.4,1885.8 181.9,1893.6 195.4,1892.8 208.8,1897.8 222.3,1901.7 235.8,1892.8 249.2,1892.8 262.7,1897.5 276.2,1899.7 289.6,1900.6 303.1,1900.6 316.6,1904.7 330,1898.9 343.5,1900.6 357,1896.9 370.5,1895 383.9,1894.7 397.4,1893.6 410.9,1886.7 424.3,1895.6 437.8,1900.6 451.3,1902.8 464.8,1903.9 478.2,1903.1 491.7,1900.6 505.2,1906.7 518.6,1898.9 532.1,1893.6 545.6,1893.6 559,1885.8 572.5,1885 586,1885 599.5,1885 612.9,1886.8 626.4,1886.8 639.9,1885 653.3,1883.9 666.8,1885.9 680.3,1885.9 693.7,1895.7 707.2,1893.3 720.7,1895.4 734.1,1887.4 747.6,1887.4 761.1,1896.3 774.6,1901.6 788,1902.8 801.5,1901.6 815,1904.6 828.4,1906.7 841.9,1903.7 855.4,1910.2 868.9,1908.1 882.3,1906.7" fill="none" stroke="#3ab5d2" stroke-width="2" stroke-linejoin="round"/>
<polyline points="6.8,1874.7 20.2,1874.7 33.7,1886.7 47.2,1898.3 60.6,1881.1 74.1,1876.7 87.6,1887.2 101.1,1881.7 114.5,1878.1 128,1867.8 141.5,1867.8 154.9,1876.1 168.4,1894.2 181.9,1908.9 195.4,1906.7 208.8,1914.2 222.3,1921.1 235.8,1901.7 249.2,1900.6 262.7,1908.1 276.2,1913.6 289.6,1913.6 303.1,1913.6 316.6,1921.9 330,1906.7 343.5,1909.4 357,1902.5 370.5,1898.3 383.9,1896.9 397.4,1896.1 410.9,1880.3 424.3,1897.5 437.8,1907.5 451.3,1911.7 464.8,1913.6 478.2,1910.8 491.7,1908.1 505.2,1919.2 518.6,1900.6 532.1,1891.9 545.6,1890.8 559,1876.7 572.5,1874.7 586,1874.1 599.5,1874.1 612.9,1879.4 626.4,1878.5 639.9,1876.1 653.3,1874.1 666.8,1879.1 680.3,1879.4 693.7,1902.8 707.2,1894.8 720.7,1899.3 734.1,1883.9 747.6,1884.4 761.1,1899.3 774.6,1912 788,1914.7 801.5,1911.7 815,1916.4 828.4,1920.9 841.9,1914.7 855.4,1923.9 868.9,1920 882.3,1917.6" fill="none" stroke="#d9487a" stroke-width="2" stroke-linejoin="round"/>
<polyline points="6.8,1878.9 20.2,1878.1 33.7,1902.5 47.2,1921.4 60.6,1882.5 74.1,1876.1 87.6,1892.8 101.1,1882.5 114.5,1876.9 128,1858.9 141.5,1858.1 154.9,1878.9 168.4,1911.7 181.9,1931.1 195.4,1925.6 208.8,1937.2 222.3,1945 235.8,1903.9 249.2,1902.5 262.7,1918.3 276.2,1926.1 289.6,1926.1 303.1,1926.1 316.6,1940 330,1905.3 343.5,1912.8 357,1895 370.5,1887.2 383.9,1885.8 397.4,1881.7 410.9,1855.3 424.3,1895.6 437.8,1914.4 451.3,1922.5 464.8,1926.1 478.2,1917.8 491.7,1910 505.2,1932.5 518.6,1892.8 532.1,1878.9 545.6,1876.1 559,1857.2 572.5,1854.7 586,1853.3 599.5,1853.3 612.9,1869.6 626.4,1868.1 639.9,1859.9 653.3,1855.4 666.8,1875.6 680.3,1875 693.7,1926.5 707.2,1905.8 720.7,1913.2 734.1,1879.4 747.6,1880.6 761.1,1914.1 774.6,1931.9 788,1934.8 801.5,1927.4 815,1936.3 828.4,1941.3 841.9,1924.4 855.4,1942.2 868.9,1931.9 882.3,1925" fill="none" stroke="#f2a33a" stroke-width="2" stroke-linejoin="round"/>
<polyline points="6.8,2055.8 20.2,2055.8 33.7,2057.1 47.2,2060.8 60.6,2063.3 74.1,2062.1 87.6,2057.9 101.1,2051.7 114.5,2045.4 128,2038.3 141.5,2032.9 154.9,2031.7 168.4,2037.1 181.9,2049.6 195.4,2065 208.8,2081.7 222.3,2097.5 235.8,2107.9 249.2,2114.2 262.7,2116.2 276.2,2116.2 289.6,2114.2 303.1,2112.1 316.6,2110 330,2107.9 343.5,2103.8 357,2097.5 370.5,2091.2 383.9,2083.3 397.4,2069.6 410.9,2055.8 424.3,2048.8 437.8,2050.8 451.3,2064.2 464.8,2078.8 478.2,2093.3 491.7,2103.8 505.2,2107.9 518.6,2103.8 532.1,2095.4 545.6,2085 559,2068.3 572.5,2053.8 586,2042.1 599.5,2035.8 612.9,2036.2 626.4,2040 639.9,2043.3 653.3,2047.5 666.8,2052.9 680.3,2058.8 693.7,2067.1 707.2,2075.8 720.7,2085 734.1,2085 747.6,2076.7 761.1,2069.6 774.6,2071.2 788,2077.5 801.5,2085 815,2095.4 828.4,2101.7 841.9,2105.8 855.4,2107.9 868.9,2109.2 882.3,2110" fill="none" stroke="#d9487a" stroke-width="2" stroke-linejoin="round" clip-path="url(#ckd)"/>
<polyline points="6.8,2055 20.2,2054.6 33.7,2058.8 47.2,2067.9 60.6,2065 74.1,2057.9 87.6,2054.6 101.1,2046.7 114.5,2040 128,2031.7 141.5,2029.6 154.9,2034.2 168.4,2048.3 181.9,2068.3 195.4,2081.7 208.8,2095.4 222.3,2110 235.8,2118.3 249.2,2122.5 262.7,2122.5 276.2,2120.4 289.6,2118.3 303.1,2116.2 316.6,2114.2 330,2110 343.5,2105.8 357,2099.6 370.5,2091.2 383.9,2070 397.4,2056.2 410.9,2042.5 424.3,2046.7 437.8,2064.2 451.3,2080.8 464.8,2097.5 478.2,2105.8 491.7,2114.2 505.2,2116.2 518.6,2105.8 532.1,2085.8 545.6,2068.3 559,2051.7 572.5,2041.2 586,2032.9 599.5,2033.8 612.9,2038.3 626.4,2044.6 639.9,2048.8 653.3,2052.9 666.8,2059.2 680.3,2066.2 693.7,2077.5 707.2,2089.2 720.7,2089.2 734.1,2076.2 747.6,2063.3 761.1,2066.2 774.6,2081.7 788,2097.5 801.5,2110 815,2114.2 828.4,2116.2 841.9,2116.2 855.4,2116.2 868.9,2114.2 882.3,2112.1" fill="none" stroke="#f2a33a" stroke-width="2" stroke-linejoin="round" clip-path="url(#ckd)"/>
<line x1="868.7" y1="753" x2="868.7" y2="2082" stroke="#fff" stroke-width="2" stroke-dasharray="9.6 10.4" stroke-dashoffset="1.7"/>
<line x1="0" y1="1263" x2="852" y2="1263" stroke="#fff" stroke-width="2" stroke-dasharray="10 10" stroke-dashoffset="1"/>
<line x1="896" y1="1146.8" x2="1080" y2="1146.8" stroke="#fff" stroke-width="2" stroke-dasharray="10 8"/>
</svg>

<!-- chart labels -->
<div class="a" style="left:44px;top:758px;font-size:26px;color:#3fb8d6">SAR: 102,734.9</div>
<div class="a" style="left:44px;top:792px;font-size:26px;color:#f2a33a">VOL(USDT): 3.3B</div>
<div class="a w" style="left:420.5px;top:825px;font-size:27px">109,998.9</div>
<div class="a w" style="left:565px;top:1320.5px;font-size:27.5px">89,037.0</div>
<!-- price axis -->
<div class="a g r" style="right:43px;top:907px;font-size:26px">106,000.0</div>
<div class="a g r" style="right:43px;top:1002px;font-size:26px">102,000.0</div>
<div class="a g r" style="right:43px;top:1097px;font-size:26px">98,000.0</div>
<div class="a g r" style="right:43px;top:1192px;font-size:26px">94,000.0</div>
<div class="a g r" style="right:43px;top:1287px;font-size:26px">90,000.0</div>
<!-- current price box -->
<div class="a" style="left:907.5px;top:1125px;width:129px;height:77px;background:rgba(0,0,0,0.72);border:1.5px solid #8a8a8a;border-radius:7px"></div>
<div class="a w r" style="right:55px;top:1134px;font-size:26px">96,919.9</div>
<div class="a w r" style="right:55px;top:1167px;font-size:26px">15:37:56</div>
<!-- crosshair boxes -->
<div class="a" style="left:851px;top:1219px;width:54px;height:88px;background:#e3e3e3;border-radius:6px"></div>
<svg class="a" style="left:858px;top:1243px" width="40" height="40" viewBox="858 1243 40 40"><circle cx="878" cy="1263" r="16.5" fill="none" stroke="#111" stroke-width="2.2"/><path d="M878 1255 L878 1271 M870 1263 L886 1263" stroke="#111" stroke-width="2.4"/></svg>
<div class="a" style="left:911px;top:1219px;width:125px;height:88px;background:#e3e3e3;border-radius:6px"></div>
<div class="a r" style="right:55px;top:1230px;font-size:26px;color:#1a1a1a">92,025.5</div>
<div class="a r" style="right:55px;top:1271px;font-size:26px;color:#1a1a1a">-5.05%</div>
<!-- tooltip -->
<div class="a" style="left:22px;top:836px;width:280px;height:420px;background:rgba(33,33,33,0.9);border-radius:9px"></div>
<div class="a cjk" style="left:38.5px;top:853.5px;font-size:27px;color:#e6e6e6">时间</div>
<div class="a r" style="right:792.5px;top:856.0px;font-size:26px;color:#ececec;letter-spacing:0.9px;margin-right:-0.9px">02/09 00:00</div>
<div class="a cjk" style="left:38.5px;top:893.2px;font-size:27px;color:#e6e6e6">开盘</div>
<div class="a r" style="right:792.5px;top:893.7px;font-size:26px;color:#ececec">95,855.9</div>
<div class="a cjk" style="left:38.5px;top:932.9px;font-size:27px;color:#e6e6e6">最高</div>
<div class="a r" style="right:792.5px;top:933.4px;font-size:26px;color:#ececec">97,333.0</div>
<div class="a cjk" style="left:38.5px;top:972.6px;font-size:27px;color:#e6e6e6">最低</div>
<div class="a r" style="right:792.5px;top:973.1px;font-size:26px;color:#ececec">95,664.6</div>
<div class="a cjk" style="left:38.5px;top:1012.3px;font-size:27px;color:#e6e6e6">收盘</div>
<div class="a r" style="right:792.5px;top:1012.8px;font-size:26px;color:#ececec">96,489.6</div>
<div class="a cjk" style="left:38.5px;top:1052.0px;font-size:27px;color:#e6e6e6">涨跌额</div>
<div class="a r" style="right:792.5px;top:1052.5px;font-size:26px;color:#ececec">633.6</div>
<div class="a cjk" style="left:38.5px;top:1091.7px;font-size:27px;color:#e6e6e6">涨跌幅</div>
<div class="a r" style="right:792.5px;top:1092.2px;font-size:26px;color:#d4456f">+0.66%</div>
<div class="a cjk" style="left:38.5px;top:1131.4px;font-size:27px;color:#e6e6e6">振幅</div>
<div class="a r" style="right:792.5px;top:1131.9px;font-size:26px;color:#ececec">1.74%</div>
<div class="a cjk" style="left:38.5px;top:1171.1px;font-size:27px;color:#e6e6e6">成交量</div>
<div class="a r" style="right:792.5px;top:1171.6px;font-size:26px;color:#ececec">33.02<span class="cjk">亿</span></div>
<div class="a cjk" style="left:38.5px;top:1210.8px;font-size:27px;color:#e6e6e6">成交额</div>
<div class="a r" style="right:792.5px;top:1211.3px;font-size:26px;color:#ececec">240.67<span class="cjk">亿</span></div>
<!-- expand button -->
<svg class="a" style="left:40px;top:1271px" width="85" height="85" viewBox="40 1271 85 85">
  <circle cx="82.2" cy="1313.5" r="36.5" fill="rgba(0,0,0,0.72)" stroke="#3a3a3a" stroke-width="1.6"/>
  <g fill="none" stroke="#fff" stroke-width="2.8" stroke-linecap="round" stroke-linejoin="round">
    <path d="M84.5 1311.5 L99 1297.5 M88 1297.7 L99.2 1297.5 L99 1308.8"/>
    <path d="M78.5 1317.5 L65.8 1330.8 M65.8 1319.8 L65.8 1331 L77 1331"/>
  </g>
</svg>
<!-- watermark -->
<svg class="a" style="left:140px;top:1288px" width="50" height="50" viewBox="140 1288 50 50">
  <g fill="rgba(255,255,255,0.24)">
    <rect x="143.3" y="1292.4" width="14" height="14"/>
    <rect x="171.6" y="1292.4" width="14" height="14"/>
    <rect x="157.4" y="1306.6" width="14" height="14"/>
    <rect x="143.3" y="1320.8" width="14" height="14"/>
    <rect x="171.6" y="1320.8" width="14" height="14"/>
  </g>
</svg>
<div class="a cjk" style="left:201px;top:1288.5px;font-size:45px;font-weight:bold;color:rgba(255,255,255,0.23)">欧易</div>
<!-- date axis -->
<div class="a g" style="left:0px;top:1390.5px;font-size:28px">12/07</div>
<div class="a g" style="left:145px;top:1390.5px;font-size:28px">2024/12/23</div>
<div class="a g" style="left:361px;top:1390.5px;font-size:28px">2025/01/08</div>
<div class="a g" style="left:577px;top:1390.5px;font-size:28px">2025/01/24</div>
<div class="a" style="left:752px;top:1382px;width:232px;height:44px;background:#e3e3e3;border-radius:5px"></div>
<div class="a" style="left:759px;top:1390.5px;font-size:28px;color:#1a1a1a">2025/02/09 00:00</div>
<!-- indicator labels -->
<div class="a" style="left:45px;top:1455px;font-size:26px"><span style="color:#f2a33a">K: 39.3 </span><span style="color:#d9487a">D: 43.1 </span><span style="color:#3ab5d2">J: 31.5</span></div>
<div class="a g r" style="right:44.5px;top:1505.5px;font-size:28px;transform:scaleX(0.96);transform-origin:100% 0">50.0</div>
<div class="a" style="left:45px;top:1631px;font-size:26.5px"><span style="color:#f2a33a">DIF: -880.3 </span><span style="color:#d9487a">DEA: 58.5 </span><span style="color:#3ab5d2">MACD: -1,877.8</span></div>
<div class="a g r" style="right:44.5px;top:1654.5px;font-size:28px;transform:scaleX(0.96);transform-origin:100% 0">3.1k</div>
<div class="a" style="left:45px;top:1807px;font-size:25.4px"><span style="color:#f2a33a">RSI1: 31.9 </span><span style="color:#d9487a">RSI2: 39 </span><span style="color:#3ab5d2">RSI3: 46.3</span></div>
<div class="a g r" style="right:44.5px;top:1858.5px;font-size:28px;transform:scaleX(0.96);transform-origin:100% 0">50.0</div>
<div class="a" style="left:45px;top:1983px;font-size:26px"><span style="color:#f2a33a">K: 39.4 </span><span style="color:#d9487a">D: 42</span></div>
<div class="a g r" style="right:44.5px;top:2013.5px;font-size:28px;transform:scaleX(0.96);transform-origin:100% 0">80.0</div>

<!-- bottom bar -->
<div class="a" style="left:0;top:2082px;width:1080px;height:188px;background:#1b1b1b;border-top:1px solid #262626"></div>
<div class="a" style="left:44px;top:2122px;width:468px;height:108px;background:#fff;border-radius:54px"></div>
<div class="a cjk" style="left:240.5px;top:2151.5px;font-size:38.5px;font-weight:bold;color:#000">交易</div>
<svg class="a" style="left:600px;top:2125px" width="420" height="70" viewBox="600 2125 420 70">
  <g fill="none" stroke="#f2f2f2" stroke-width="3.2" stroke-linecap="round" stroke-linejoin="round">
    <path d="M627 2180 L613 2180 Q610 2180 610 2177 L610 2138 Q610 2135 613 2135 L654 2135 Q657 2135 657 2138 L657 2160"/>
    <path d="M619 2162 L628 2154 L636 2160 L646 2151"/>
    <circle cx="795" cy="2148" r="11"/>
    <circle cx="819" cy="2157" r="6"/>
    <path d="M781 2168 L829 2172"/>
    <path d="M952 2170 L952 2158 Q952 2136 972 2135"/>
    <path d="M996 2170 L996 2160"/>
    <path d="M947 2170.5 L1002 2170.5"/>
    <path d="M967 2180 Q975 2186 983 2180"/>
    <path d="M985 2136 L985 2156 M975 2146 L995 2146"/>
  </g>
  <path d="M799 2175 L805 2183 L793 2183 Z" fill="#f2f2f2"/>
  <text x="636" y="2182" font-size="16" font-weight="bold" fill="#f2f2f2" font-family="Liberation Sans">5x</text>
</svg>
<div class="a cjk" style="left:605px;top:2195.5px;font-size:28px;color:#8e8e8e">网格</div>
<div class="a cjk" style="left:776px;top:2195.5px;font-size:28px;color:#8e8e8e">杠杆</div>
<div class="a cjk" style="left:947px;top:2195.5px;font-size:28px;color:#8e8e8e">预警</div>
<!-- nav bar -->
<svg class="a" style="left:280px;top:2310px" width="520" height="55" viewBox="280 2310 520 55">
  <g fill="none" stroke="#b0b0b0" stroke-width="3.2" stroke-linecap="round" stroke-linejoin="round">
    <path d="M292 2325 L317 2325 M292 2336 L317 2336 M292 2347 L317 2347"/>
    <rect x="528" y="2324" width="25" height="24" rx="6"/>
    <path d="M785 2323 L772 2336 L785 2349"/>
  </g>
</svg>


</body></html>
